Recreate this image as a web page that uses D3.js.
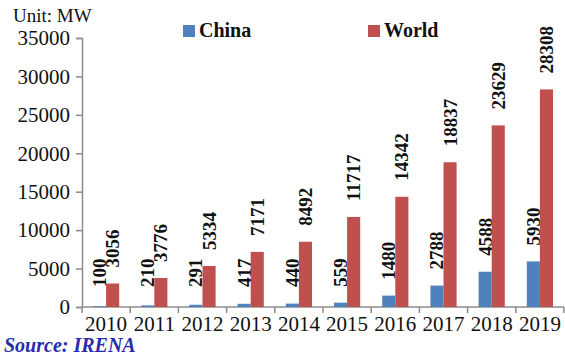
<!DOCTYPE html>
<html>
<head>
<meta charset="utf-8">
<script src="https://cdn.jsdelivr.net/npm/d3@7"></script>
<style>
  body { margin: 0; background: #fff; }
  text { font-family: "Liberation Serif", "Times New Roman", serif; }
</style>
</head>
<body>
<div id="chart"></div>
<script>
// chart data
var years = ["2010", "2011", "2012", "2013", "2014", "2015", "2016", "2017", "2018", "2019"]
var china = [100, 210, 291, 417, 440, 559, 1480, 2788, 4588, 5930]
var world = [3056, 3776, 5334, 7171, 8492, 11717, 14342, 18837, 23629, 28308]
var seriesNames = ["China", "World"]
var colors = ["#4f81bd", "#c0504d"]
var yTicks = [0, 5000, 10000, 15000, 20000, 25000, 30000, 35000]

var width = 565
var height = 356
// plot area edges (don't use "top" - it's window.top)
var plotLeft = 82, plotRight = 564, plotTop = 38, plotBottom = 307

var svg = d3.select("#chart").append("svg")
    .attr("width", width)
    .attr("height", height)

var x = d3.scaleBand().domain(years).range([plotLeft, plotRight]).padding(0)
var xs = d3.scaleBand().domain(seriesNames).range([0, x.bandwidth()])
    .paddingInner(0).paddingOuter(0.84)
var y = d3.scaleLinear().domain([0, 35000]).range([plotBottom, plotTop])

var axisColor = "#8c8c8c"

// y axis
var yAxis = svg.append("g")
    .attr("transform", "translate(" + plotLeft + ",0)")
    .call(d3.axisLeft(y).tickValues(yTicks).tickSize(6).tickPadding(6).tickFormat(d3.format("d")))
yAxis.select(".domain").attr("stroke", axisColor).attr("stroke-width", 1.5)
yAxis.selectAll(".tick line").attr("stroke", axisColor).attr("stroke-width", 1.5)
yAxis.selectAll(".tick text")
    .attr("fill", "#111")
    .style("font-size", "21px")
    .style("font-family", "Liberation Serif, serif")

// x axis line + boundary ticks
svg.append("line")
    .attr("x1", plotLeft).attr("x2", plotRight)
    .attr("y1", plotBottom).attr("y2", plotBottom)
    .attr("stroke", axisColor).attr("stroke-width", 1.5)

var bounds = years.map(function(d) { return x(d); }).concat([plotRight])
svg.selectAll(".xtick")
    .data(bounds)
    .enter()
    .append("line")
    .attr("class", "xtick")
    .attr("x1", function(d) { return d; })
    .attr("x2", function(d) { return d; })
    .attr("y1", plotBottom)
    .attr("y2", plotBottom + 6)
    .attr("stroke", axisColor).attr("stroke-width", 1.5)

svg.selectAll(".xlabel")
    .data(years)
    .enter()
    .append("text")
    .attr("class", "xlabel")
    .attr("x", function(d) { return x(d) + x.bandwidth() / 2; })
    .attr("y", 331)
    .attr("text-anchor", "middle")
    .style("font-size", "21px")
    .attr("fill", "#111")
    .text(function(d) { return d; })

// bars and rotated value labels
var series = [china, world]
series.forEach(function(vals, s) {
    var g = svg.append("g")
    g.selectAll("rect")
        .data(vals)
        .enter()
        .append("rect")
        .attr("x", function(d, i) { return x(years[i]) + xs(seriesNames[s]); })
        .attr("width", xs.bandwidth())
        .attr("y", function(d) { return y(d); })
        .attr("height", function(d) { return plotBottom - y(d); })
        .attr("fill", colors[s])

    g.selectAll("text")
        .data(vals)
        .enter()
        .append("text")
        .attr("transform", function(d, i) {
            var cx = x(years[i]) + xs(seriesNames[s]) + xs.bandwidth() / 2
            var ty = Math.min(y(d), plotBottom - 4) - 16
            return "translate(" + (cx + 6.5) + "," + ty + ") rotate(-90)"
        })
        .attr("text-anchor", "start")
        .style("font-size", "19px")
        .style("font-weight", "bold")
        .attr("fill", "#111")
        .text(function(d) { return d; })
})

// unit label
svg.append("text")
    .attr("x", 13).attr("y", 22)
    .style("font-size", "19px")
    .attr("fill", "#111")
    .text("Unit:  MW")

// legend
var legendX = [183, 368]
seriesNames.forEach(function(name, s) {
    svg.append("rect")
        .attr("x", legendX[s]).attr("y", 25)
        .attr("width", 12).attr("height", 12)
        .attr("fill", colors[s])
    svg.append("text")
        .attr("x", legendX[s] + 16).attr("y", 37)
        .style("font-size", "20px")
        .style("font-weight", "bold")
        .attr("fill", "#111")
        .text(name)
})

// source note
svg.append("text")
    .attr("x", 4).attr("y", 352)
    .style("font-size", "20px")
    .style("font-weight", "bold")
    .style("font-style", "italic")
    .attr("fill", "#2a2ab0")
    .text("Source: IRENA")
</script>
</body>
</html>
